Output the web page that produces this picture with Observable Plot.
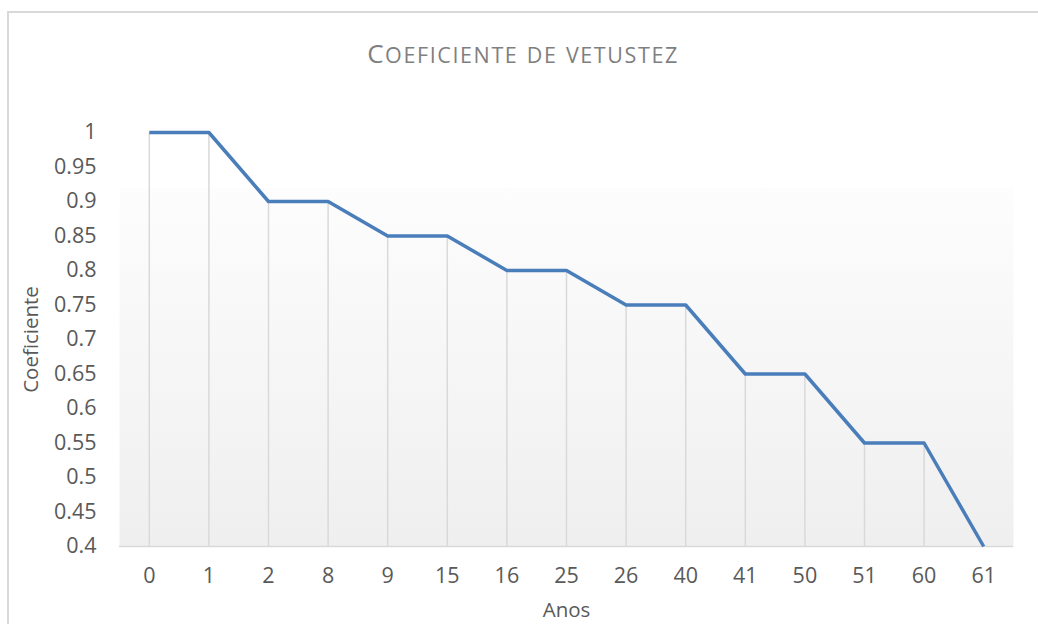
<!DOCTYPE html>
<html>
<head>
<meta charset="utf-8">
<script src="https://cdn.jsdelivr.net/npm/d3@7"></script>
<script src="https://cdn.jsdelivr.net/npm/@observablehq/plot@0.6"></script>
<style>
  html, body { margin: 0; padding: 0; background: #fff; }
  #wrap { position: relative; width: 1038px; height: 624px; overflow: hidden; font-family: "Open Sans", sans-serif; }
  #border { position: absolute; left: 7px; top: 11px; width: 1100px; height: 700px; border: 2px solid #d9d9d9; box-sizing: border-box; }
  #title { position: absolute; left: 0; width: 1046px; top: 35px; text-align: center; font-size: 26px; color: #7f7f7f; letter-spacing: 1.6px; white-space: nowrap; }
  #title .sc { font-size: 21.5px; }
  #chart { position: absolute; left: 0; top: 0; }
</style>
</head>
<body>
<div id="wrap">
  <div id="border"></div>
  <div id="title"></div>
  <div id="chart"></div>
</div>
<script>
const titleText = "Coeficiente de vetustez";
const anos = ["0", "1", "2", "8", "9", "15", "16", "25", "26", "40", "41", "50", "51", "60", "61"];
const coeficiente = [1, 1, 0.9, 0.9, 0.85, 0.85, 0.8, 0.8, 0.75, 0.75, 0.65, 0.65, 0.55, 0.55, 0.4];
const yTicks = [0.4, 0.45, 0.5, 0.55, 0.6, 0.65, 0.7, 0.75, 0.8, 0.85, 0.9, 0.95, 1];

// Title rendered in small caps (uppercase letters large, lowercase letters as smaller capitals)
const titleEl = document.getElementById("title");
for (const ch of titleText) {
  const span = document.createElement("span");
  if (ch !== ch.toUpperCase()) { span.className = "sc"; span.textContent = ch.toUpperCase(); }
  else span.textContent = ch;
  titleEl.appendChild(span);
}

const data = anos.map((a, i) => ({ano: a, v: coeficiente[i]}));

const plot = Plot.plot({
  width: 1038,
  height: 624,
  marginLeft: 119,
  marginRight: 25,
  marginTop: 132,
  marginBottom: 78,
  style: { fontFamily: "'Open Sans', sans-serif", fontSize: "21.5px", color: "#595959", background: "transparent", overflow: "visible" },
  x: { type: "point", domain: anos, padding: 0.5, round: false, label: "Anos", labelAnchor: "center", labelOffset: 70, tickSize: 0, tickPadding: 21 },
  y: { domain: [0.4, 1], ticks: yTicks, tickFormat: d => String(+d.toFixed(2)), label: "Coeficiente", labelArrow: "none", labelAnchor: "center", labelOffset: 96, tickSize: 0, tickPadding: 23 },
  marks: [
    Plot.frame({ fill: "url(#bggrad)", stroke: "none" }),
    Plot.ruleX(data, { x: "ano", y1: 0.4, y2: "v", stroke: "#d9d9d9", strokeWidth: 1.5 }),
    Plot.ruleY([0.4], { stroke: "#d9d9d9", strokeWidth: 1.5 }),
    Plot.line(data, { x: "ano", y: "v", stroke: "#4a7ebb", strokeWidth: 3.5, strokeLinejoin: "round", strokeLinecap: "butt" })
  ]
});

const svg = d3.select(plot);
const defs = svg.insert("defs", ":first-child");
const g = defs.append("linearGradient").attr("id", "bggrad").attr("x1", 0).attr("y1", 0).attr("x2", 0).attr("y2", 1);
g.append("stop").attr("offset", "0").attr("stop-color", "#ffffff").attr("stop-opacity", 0);
g.append("stop").attr("offset", "0.133").attr("stop-color", "#ffffff").attr("stop-opacity", 0);
g.append("stop").attr("offset", "0.133").attr("stop-color", "#fdfdfd").attr("stop-opacity", 1);
g.append("stop").attr("offset", "1").attr("stop-color", "#efefef").attr("stop-opacity", 1);
// make sure axis labels have no arrows and use the reference grey
svg.selectAll("[aria-label='x-axis label'] text, [aria-label='y-axis label'] text").each(function() {
  this.textContent = this.textContent.replace(/\s*[→←↑↓]\s*/g, "");
}).attr("fill", "#595959").style("font-size", "20.5px");
svg.selectAll("[aria-label='x-axis tick label'] text, [aria-label='y-axis tick label'] text").attr("fill", "#595959");
document.getElementById("chart").appendChild(plot);
</script>
</body>
</html>
